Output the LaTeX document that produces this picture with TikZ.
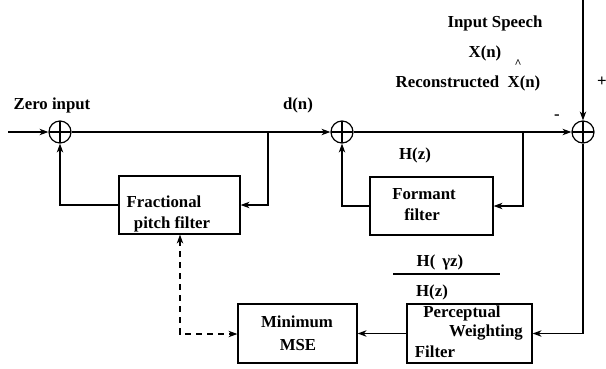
\documentclass[tikz,border=0pt]{standalone}
\usepackage{fontspec}
\setmainfont{Liberation Serif}
\usetikzlibrary{arrows.meta}
\begin{document}
\begin{tikzpicture}[x=1pt,y=-1pt,
  line width=1.2pt,
  every node/.style={font=\fontsize{16.8}{19}\selectfont\bfseries, inner sep=0pt},
  sumnode/.style={circle,draw,minimum size=22pt,
    path picture={\draw[line width=1.1pt] (path picture bounding box.north) -- (path picture bounding box.south)
      (path picture bounding box.west) -- (path picture bounding box.east);}},
  blockbox/.style={draw,rectangle,minimum width=#1,minimum height=58pt},
  arr/.style={-{Stealth[length=9pt,width=6.5pt]}},
  lbl/.style={anchor=center}
]
\useasboundingbox (0,0) rectangle (606,368);

% summing junctions
\node[sumnode] (s1) at (60,132) {};
\node[sumnode] (s2) at (342,132) {};
\node[sumnode] (s3) at (583,132) {};

% blocks
\node[blockbox=121pt] (frac) at (179.5,205) {};
\node[blockbox=123pt] (form) at (431.5,206) {};
\node[blockbox=119pt,minimum height=59pt] (mse) at (297.5,333.5) {};
\node[blockbox=125pt,minimum height=59pt] (perc) at (469.5,333.5) {};

% coordinates
\coordinate (in) at (8,132);
\coordinate (top) at (583,0);
\coordinate (b1) at (268,132);
\coordinate (b2) at (523,132);
\coordinate (dc) at (180,334);

% main path
\draw[arr] (in) -- (s1);
\draw[arr] (s1) -- (s2);
\draw[arr] (s2) -- (s3);
\draw[arr] (top) -- (s3);

% pitch loop
\draw[arr] (b1) |- (frac.east);
\draw[arr] (frac.west) -| (s1.south);

% formant loop
\draw[arr] (b2) |- (form.east);
\draw[arr] (form.west) -| (s2.south);

% error path
\draw[arr] (s3.south) |- (perc.east);
\draw[arr] (perc.west) -- (mse.east);

% dashed control
\draw[dashed,dash pattern=on 6pt off 5pt,{Stealth[length=9pt,width=6.5pt]}-{Stealth[length=9pt,width=6.5pt]}]
  (frac.south -| dc) -- (dc) -- (mse.west |- dc);

% labels
\node[lbl] (tzero) at (52,105) {Zero input};
\node[lbl] (tdn) at (298,105) {d(n)};
\node[lbl] (tin) at (495,23) {Input Speech};
\node[lbl] (txn) at (485,53) {X(n)};
\node[lbl,font=\fontsize{12}{12}\selectfont\bfseries] (that) at (518,64) {\textasciicircum};
\node[lbl] (trec) at (468,83) {Reconstructed\ \ X(n)};
\node[lbl] (tminus) at (557,117) {-};
\node[lbl] (tplus) at (602,82) {+};
\node[lbl] (thz) at (415,155) {H(z)};

\node[lbl] (tfrac1) at (164,202) {Fractional};
\node[lbl] (tfrac2) at (172,224) {pitch filter};
\node[lbl] (tform1) at (424,194) {Formant};
\node[lbl] (tform2) at (422,215) {filter};
\node[lbl] (tmse1) at (297,322) {Minimum};
\node[lbl] (tmse2) at (298,345) {MSE};
\node[lbl] (tp1) at (462,313) {Perceptual};
\node[lbl] (tp2) at (486,333) {Weighting};
\node[lbl] (tp3) at (435,352) {Filter};

% transfer function
\node[lbl] (tnum) at (440,262) {H(\ \,γz)};
\node[lbl] (tden) at (432,292) {H(z)};
\coordinate (fl) at (393,274);
\coordinate (fr) at (500,274);
\draw (fl) -- (fr);
\end{tikzpicture}
\end{document}
